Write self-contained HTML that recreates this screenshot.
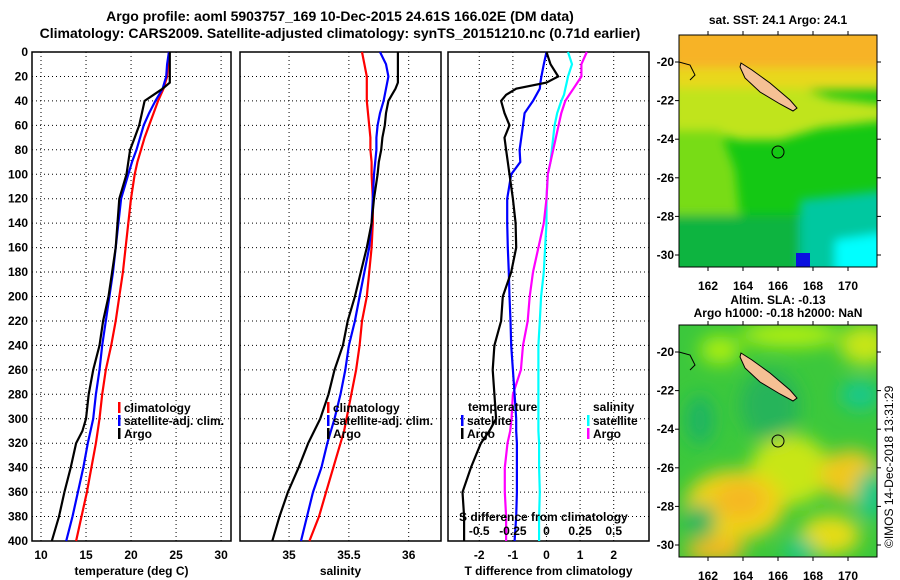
<!DOCTYPE html>
<html><head><meta charset="utf-8">
<style>
html,body{margin:0;padding:0;background:#fff;}
svg{display:block;font-family:"Liberation Sans",sans-serif;font-weight:bold;}
</style></head>
<body>
<svg id="fig" width="900" height="580" viewBox="0 0 900 580">
<defs>
<filter id="blur" x="-20%" y="-20%" width="140%" height="140%"><feGaussianBlur stdDeviation="9"/></filter>
<filter id="blur2" x="-20%" y="-20%" width="140%" height="140%"><feGaussianBlur stdDeviation="5"/></filter>
<clipPath id="m1clip"><rect x="679" y="35" width="198" height="232"/></clipPath>
<clipPath id="m2clip"><rect x="679" y="325" width="198" height="232"/></clipPath>
</defs>
<text x="340" y="21" text-anchor="middle" font-size="14">Argo profile: aoml 5903757_169 10-Dec-2015 24.61S 166.02E (DM data)</text>
<text x="340" y="38" text-anchor="middle" font-size="14">Climatology: CARS2009. Satellite-adjusted climatology: synTS_20151210.nc (0.71d earlier)</text>

<g>
<text x="778" y="24" text-anchor="middle" font-size="12">sat. SST: 24.1 Argo: 24.1</text>
<g clip-path="url(#m1clip)">
<rect x="679" y="35" width="198" height="232" fill="#14c814"/>
<g filter="url(#blur2)">
<rect x="670" y="25" width="220" height="45" fill="#f7b325"/>
<rect x="670" y="68" width="220" height="22" fill="#e8d81e"/>
<polygon points="670,88 800,88 830,98 890,105 890,120 820,128 780,140 740,140 700,130 670,130" fill="#c0e41a"/>
<polygon points="670,130 720,130 735,170 740,215 670,215" fill="#78dc14"/>
<polygon points="670,215 800,215 800,275 670,275" fill="#10b440"/>
<polygon points="800,200 890,190 890,275 800,275" fill="#00c8a0"/>
<polygon points="835,240 890,232 890,275 835,275" fill="#00ffff"/>
</g>
<rect x="796" y="253" width="14" height="14" fill="#0a10e0"/>
</g>
<polygon points="741,63 752,70 770,83 790,100 797,108 793,111 780,104 760,92 745,78 740,67" fill="#f5c094" stroke="#000" stroke-width="1"/>
<circle cx="778" cy="152" r="6" fill="none" stroke="#000" stroke-width="1"/>
<polyline points="679,62 690,65 695,75 690,80" fill="none" stroke="#000" stroke-width="1"/>
<rect x="679" y="35" width="198" height="232" fill="none" stroke="#000" stroke-width="1"/>
</g>

<g>
<text x="778" y="304" text-anchor="middle" font-size="12">Altim. SLA: -0.13</text>
<text x="778" y="317" text-anchor="middle" font-size="12">Argo h1000: -0.18 h2000: NaN</text>
<g clip-path="url(#m2clip)">
<rect x="679" y="325" width="198" height="232" fill="#3cc83c"/>
<g filter="url(#blur)">
<ellipse cx="720" cy="350" rx="20" ry="14" fill="#aef00a"/>
<ellipse cx="790" cy="335" rx="50" ry="12" fill="#b4f00a"/>
<ellipse cx="865" cy="345" rx="25" ry="20" fill="#c8e614"/>
<ellipse cx="790" cy="470" rx="40" ry="35" fill="#c8e614"/>
<ellipse cx="735" cy="505" rx="50" ry="35" fill="#f0d214"/>
<ellipse cx="740" cy="500" rx="25" ry="18" fill="#f5b820"/>
<ellipse cx="850" cy="475" rx="30" ry="25" fill="#f0c81e"/>
<ellipse cx="830" cy="535" rx="30" ry="20" fill="#e6dc14"/>
<ellipse cx="715" cy="550" rx="30" ry="12" fill="#f5b820"/>
<ellipse cx="700" cy="420" rx="14" ry="25" fill="#1eb464"/>
<ellipse cx="700" cy="520" rx="16" ry="15" fill="#1eb464"/>
<ellipse cx="860" cy="395" rx="20" ry="15" fill="#14c88c"/>
<ellipse cx="870" cy="495" rx="14" ry="25" fill="#14c88c"/>
<ellipse cx="800" cy="550" rx="16" ry="12" fill="#14c88c"/>
<ellipse cx="770" cy="405" rx="30" ry="35" fill="#28b45a"/>
</g>
</g>
<polygon points="741,353 752,360 770,373 790,390 797,398 793,401 780,394 760,382 745,368 740,357" fill="#f5c094" stroke="#000" stroke-width="1"/>
<circle cx="778" cy="441" r="6" fill="none" stroke="#000" stroke-width="1"/>
<polyline points="679,352 690,355 695,365 690,370" fill="none" stroke="#000" stroke-width="1"/>
<rect x="679" y="325" width="198" height="232" fill="none" stroke="#000" stroke-width="1"/>
</g>
<text transform="translate(893,548) rotate(-90)" font-size="12" font-weight="normal">©IMOS 14-Dec-2018 13:31:29</text>
<g id="dyn"></g>
</svg>
<script>
const depths = [0,10,20,25,30,35,40,50,60,70,80,90,100,120,140,160,180,200,220,240,260,280,300,310,320,340,360,380,400];
const tClim = [24.2,24.1,24.0,23.8,23.6,23.3,23.0,22.5,22.0,21.5,21.1,20.7,20.4,20.0,19.7,19.4,19.1,18.7,18.3,17.8,17.2,16.8,16.5,16.3,16.1,15.6,15.1,14.5,13.9];
const tSat  = [24.2,24.0,23.9,23.7,23.5,23.1,22.7,22.0,21.4,21.0,20.6,20.1,19.7,18.9,18.6,18.3,18.0,17.6,17.2,16.8,16.5,16.1,15.8,15.5,15.2,14.7,14.1,13.5,12.8];
const tArgo = [24.3,24.3,24.3,24.3,23.5,22.5,21.5,21.2,20.9,20.4,19.9,19.7,19.5,18.7,18.5,18.3,17.9,17.5,16.9,16.5,15.8,15.3,15.0,14.6,13.9,13.3,12.6,12.0,11.2];
const sClim = [35.61,35.63,35.65,35.65,35.65,35.65,35.65,35.66,35.67,35.68,35.68,35.69,35.69,35.70,35.70,35.69,35.67,35.65,35.61,35.59,35.56,35.52,35.48,35.46,35.43,35.37,35.31,35.25,35.17];
const sSat  = [35.76,35.81,35.83,35.82,35.81,35.80,35.79,35.76,35.74,35.73,35.73,35.72,35.71,35.70,35.69,35.67,35.63,35.59,35.55,35.50,35.47,35.43,35.38,35.35,35.32,35.27,35.20,35.15,35.10];
const sArgo = [35.91,35.91,35.91,35.91,35.89,35.86,35.83,35.81,35.80,35.78,35.77,35.75,35.74,35.71,35.69,35.65,35.60,35.55,35.49,35.45,35.38,35.33,35.26,35.21,35.16,35.08,34.99,34.92,34.86];
const dTSat  = [0.0,-0.08,-0.15,-0.18,-0.2,-0.3,-0.4,-0.65,-0.7,-0.75,-0.8,-0.78,-1.05,-1.17,-1.17,-1.15,-1.12,-1.1,-1.07,-1.05,-1.0,-0.95,-0.9,-0.9,-0.88,-0.88,-0.88,-0.9,-0.95];
const dTArgo = [0.0,0.12,0.35,0.0,-0.9,-1.2,-1.35,-1.25,-1.1,-1.25,-1.2,-1.15,-1.1,-1.0,-0.92,-0.9,-1.05,-1.3,-1.35,-1.55,-1.6,-1.55,-1.5,-1.7,-1.95,-2.25,-2.5,-2.45,-2.45];
const dSSat  = [0.16,0.19,0.16,0.15,0.14,0.13,0.11,0.08,0.06,0.05,0.04,0.03,0.01,0.0,0.0,-0.01,-0.02,-0.04,-0.05,-0.06,-0.06,-0.06,-0.06,-0.06,-0.055,-0.055,-0.05,-0.055,-0.055];
const dSArgo = [0.30,0.26,0.26,0.23,0.2,0.17,0.14,0.11,0.09,0.07,0.05,0.03,0.01,0.0,-0.02,-0.06,-0.10,-0.125,-0.14,-0.175,-0.19,-0.25,-0.26,-0.27,-0.29,-0.31,-0.31,-0.30,-0.30];
const depthTicks = [0,20,40,60,80,100,120,140,160,180,200,220,240,260,280,300,320,340,360,380,400];
const tTicks = [10,15,20,25,30];
const sTicks = [35,35.5,36];
const dTicks = [-2,-1,0,1,2];
const dSTickLabels = ["-0.5","-0.25","0","0.25","0.5"];
const dSTicks = [-0.5,-0.25,0,0.25,0.5];
const mapLon = [162,164,166,168,170];
const mapLat = [-20,-22,-24,-26,-28,-30];

const NS='http://www.w3.org/2000/svg';
const dyn=document.getElementById('dyn');
function mk(tag,attrs,parent){const e=document.createElementNS(NS,tag);for(const k in attrs)e.setAttribute(k,attrs[k]);(parent||dyn).appendChild(e);return e;}
const Y0=52,Y1=541;
const yD=d=>Y0+(d/400)*(Y1-Y0);

function panel(name,x0,x1,v0,v1,ticks,labels,title){
  const xs=v=>x0+(v-v0)/(v1-v0)*(x1-x0);
  const g=mk('g',{});
  
  
  depthTicks.forEach(d=>{
    const l=mk('line',{x1:x0,x2:x1,y1:yD(d),y2:yD(d),stroke:'#000','stroke-width':1,'stroke-dasharray':'1,3'},g);
    
    
  });
  ticks.forEach((t,i)=>{
    const gl=mk('line',{x1:xs(t),x2:xs(t),y1:Y0,y2:Y1,stroke:'#000','stroke-width':1,'stroke-dasharray':'1,3'},g);
    
    
    const tx=mk('text',{x:xs(t),y:Y1+18,'text-anchor':'middle','font-size':12},g);
    tx.textContent=labels?labels[i]:String(t);
    
    
  });
  const tt=mk('text',{x:(x0+x1)/2,y:Y1+34,'text-anchor':'middle','font-size':12},g);
  tt.textContent=title;
  
  
  const fr=mk('rect',{x:x0,y:Y0,width:x1-x0,height:Y1-Y0,fill:'none',stroke:'#000','stroke-width':1.5},g);
  
  
  return {g,xs};
}
function series(p,vals,color,name,scale){
  const pts=vals.map((v,i)=>p.xs(v*(scale||1)).toFixed(1)+','+yD(depths[i]).toFixed(1)).join(' ');
  const pl=mk('polyline',{points:pts,fill:'none',stroke:color,'stroke-width':2.2},p.g);
  
  
}
function legend(g,x,y,color,label,name){
  const m=mk('rect',{x:x,y:y-10,width:2.5,height:11,fill:color},g);
  
  
  const t=mk('text',{x:x+6,y:y,'font-size':12},g);
  t.textContent=label;
  
  
}

depthTicks.forEach(d=>{
  const t=mk('text',{x:28,y:yD(d)+4,'text-anchor':'end','font-size':12});
  t.textContent=String(d);
  
  
});

const p1=panel('temperature-panel',32,231,9,31.1,tTicks,null,'temperature (deg C)');
series(p1,tClim,'#ff0000','temp-climatology-line');
series(p1,tSat,'#0000ff','temp-satellite-line');
series(p1,tArgo,'#000000','temp-argo-line');
legend(p1.g,118,412,'#ff0000','climatology','legend-climatology');
legend(p1.g,118,425,'#0000ff','satellite-adj. clim.','legend-satellite-adj');
legend(p1.g,118,438,'#000000','Argo','legend-argo');

const p2=panel('salinity-panel',240,441,34.59,36.27,sTicks,null,'salinity');
series(p2,sClim,'#ff0000','sal-climatology-line');
series(p2,sSat,'#0000ff','sal-satellite-line');
series(p2,sArgo,'#000000','sal-argo-line');
legend(p2.g,327,412,'#ff0000','climatology','legend-climatology');
legend(p2.g,327,425,'#0000ff','satellite-adj. clim.','legend-satellite-adj');
legend(p2.g,327,438,'#000000','Argo','legend-argo');

const p3=panel('difference-panel',448,649,-2.93,3.05,dTicks,null,'T difference from climatology');
series(p3,dSSat,'#00ffff','sdiff-satellite-line',4);
series(p3,dSArgo,'#ff00ff','sdiff-argo-line',4);
series(p3,dTSat,'#0000ff','tdiff-satellite-line');
series(p3,dTArgo,'#000000','tdiff-argo-line');
let t3=mk('text',{x:468,y:411,'font-size':12},p3.g);t3.textContent='temperature';


let t4=mk('text',{x:593,y:411,'font-size':12},p3.g);t4.textContent='salinity';


legend(p3.g,461,425,'#0000ff','satellite','legend-t-satellite');
legend(p3.g,461,438,'#000000','Argo','legend-t-argo');
legend(p3.g,587,425,'#00ffff','satellite','legend-s-satellite');
legend(p3.g,587,438,'#ff00ff','Argo','legend-s-argo');
let st=mk('text',{x:459,y:521,'font-size':12},p3.g);st.textContent='S difference from climatology';


dSTicks.forEach((v,i)=>{
  const t=mk('text',{x:p3.xs(v*4),y:535,'text-anchor':'middle','font-size':12},p3.g);
  t.textContent=dSTickLabels[i];
  
  
});

function mapAxes(top,name){
  const lx=v=>708+(v-162)*17.5, ly=v=>top+27+(-20-v)*19.3;
  mapLon.forEach(v=>{
    mk('line',{x1:lx(v),x2:lx(v),y1:top-4,y2:top,stroke:'#000'});
    mk('line',{x1:lx(v),x2:lx(v),y1:top+232,y2:top+236,stroke:'#000'});
    const t=mk('text',{x:lx(v),y:top+255,'text-anchor':'middle','font-size':12});
    t.textContent=String(v);
    
    
  });
  mapLat.forEach(v=>{
    mk('line',{x1:675,x2:679,y1:ly(v),y2:ly(v),stroke:'#000'});
    mk('line',{x1:877,x2:881,y1:ly(v),y2:ly(v),stroke:'#000'});
    const t=mk('text',{x:674,y:ly(v)+4,'text-anchor':'end','font-size':12});
    t.textContent=String(v);
    
    
  });
}
mapAxes(35,'sst-map');
mapAxes(325,'sla-map');
</script>
</body></html>
